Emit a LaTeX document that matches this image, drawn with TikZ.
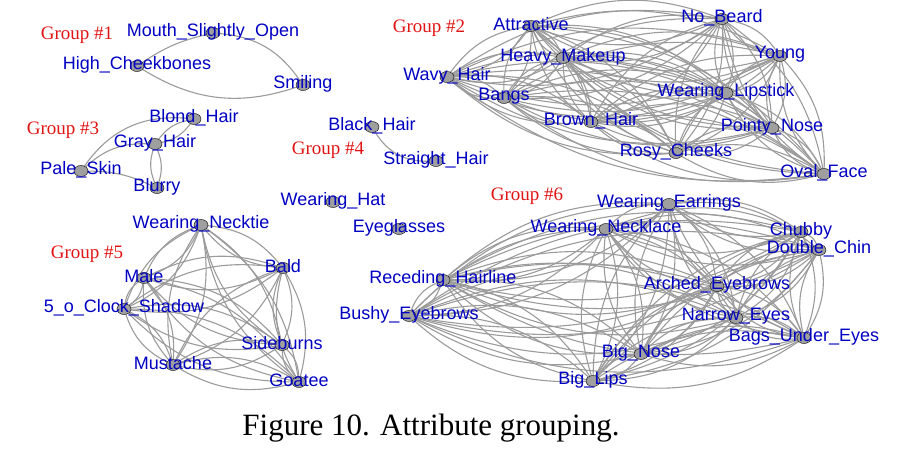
\documentclass[tikz,border=0pt]{standalone}
\usepackage{fontspec}
\setmainfont{Liberation Serif}
\newfontfamily\arialfont{Liberation Sans}
\usetikzlibrary{shapes.geometric,backgrounds}
\definecolor{attrblue}{RGB}{0,0,195}
\definecolor{grpred}{RGB}{225,20,20}
\definecolor{edgegray}{RGB}{155,155,155}
\tikzset{
  att/.style={ellipse,draw=black,fill=gray!75,minimum width=14pt,minimum height=11pt,inner sep=0pt,thin},
  attlab/.style={font=\arialfont\fontsize{18}{18}\selectfont,text=attrblue,inner sep=0pt,yshift=1.5pt},
  grp/.style={font=\fontsize{19}{19}\selectfont,text=grpred},
  edge/.style={draw=edgegray,line width=1.1pt},
}
% every attribute of a group linked to every other one, both ways
\newcommand{\linkall}[2]{%
  \foreach \a [count=\i] in {#2}{%
    \foreach \b [count=\j] in {#2}{%
      \ifnum\i<\j
        \draw[edge] (\a) to[bend left=#1] (\b);
        \draw[edge] (\a) to[bend right=#1] (\b);
      \fi
    }}}

\begin{document}
\begin{tikzpicture}[x=1pt,y=-1pt]
  \useasboundingbox (0,0) rectangle (924,462);

  % group labels
  \node[grp] (g1) at (77,35) {Group \#1};
  \node[grp] (g2) at (429,28) {Group \#2};
  \node[grp] (g3) at (63,130) {Group \#3};
  \node[grp] (g4) at (328,150) {Group \#4};
  \node[grp] (g5) at (87,254) {Group \#5};
  \node[grp] (g6) at (527,196) {Group \#6};

  % group 1
  \node[att,label={[attlab]center:Mouth\_Slightly\_Open}] (mouth) at (213,33) {};
  \node[att,label={[attlab]center:High\_Cheekbones}] (cheek) at (137,66) {};
  \node[att,label={[attlab]center:Smiling}] (smile) at (303,85) {};

  % group 3
  \node[att,label={[attlab]center:Blond\_Hair}] (blond) at (194,119) {};
  \node[att,label={[attlab]center:Gray\_Hair}] (gray) at (155,144) {};
  \node[att,label={[attlab]center:Pale\_Skin}] (pale) at (81,171) {};
  \node[att,label={[attlab]center:Blurry}] (blurry) at (157,188) {};

  % group 4 and the loose ones
  \node[att,label={[attlab]center:Black\_Hair}] (black) at (372,127) {};
  \node[att,label={[attlab]center:Straight\_Hair}] (straight) at (436,161) {};
  \node[att,label={[attlab]center:Wearing\_Hat}] (hat) at (333,202) {};
  \node[att,label={[attlab]center:Eyeglasses}] (glasses) at (399,229) {};

  % group 2
  \node[att,label={[attlab]center:Attractive}] (attr) at (531,26) {};
  \node[att,label={[attlab]center:No\_Beard}] (nobeard) at (722,19) {};
  \node[att,label={[attlab]center:Heavy\_Makeup}] (makeup) at (563,58) {};
  \node[att,label={[attlab]center:Young}] (young) at (780,56) {};
  \node[att,label={[attlab]center:Wavy\_Hair}] (wavy) at (447,77) {};
  \node[att,label={[attlab]center:Bangs}] (bangs) at (504,98) {};
  \node[att,label={[attlab]center:Wearing\_Lipstick}] (lipstick) at (726,93) {};
  \node[att,label={[attlab]center:Brown\_Hair}] (brown) at (591,122) {};
  \node[att,label={[attlab]center:Pointy\_Nose}] (pointy) at (772,128) {};
  \node[att,label={[attlab]center:Rosy\_Cheeks}] (rosy) at (676,153) {};
  \node[att,label={[attlab]center:Oval\_Face}] (oval) at (824,174) {};

  % group 5
  \node[att,label={[attlab]center:Wearing\_Necktie}] (necktie) at (201,225) {};
  \node[att,label={[attlab]center:Male}] (male) at (144,278) {};
  \node[att,label={[attlab]center:Bald}] (bald) at (283,268) {};
  \node[att,label={[attlab]center:5\_o\_Clock\_Shadow}] (shadow) at (124,309) {};
  \node[att,label={[attlab]center:Sideburns}] (sideburns) at (282,345) {};
  \node[att,label={[attlab]center:Mustache}] (mustache) at (173,365) {};
  \node[att,label={[attlab]center:Goatee}] (goatee) at (299,382) {};

  % group 6
  \node[att,label={[attlab]center:Wearing\_Earrings}] (earrings) at (669,204) {};
  \node[att,label={[attlab]center:Wearing\_Necklace}] (necklace) at (606,229) {};
  \node[att,label={[attlab]center:Chubby}] (chubby) at (801,232) {};
  \node[att,label={[attlab]center:Double\_Chin}] (dchin) at (819,250) {};
  \node[att,label={[attlab]center:Receding\_Hairline}] (receding) at (443,280) {};
  \node[att,label={[attlab]center:Arched\_Eyebrows}] (arched) at (717,286) {};
  \node[att,label={[attlab]center:Bushy\_Eyebrows}] (bushy) at (409,316) {};
  \node[att,label={[attlab]center:Narrow\_Eyes}] (narrow) at (736,318) {};
  \node[att,label={[attlab]center:Bags\_Under\_Eyes}] (bags) at (804,338) {};
  \node[att,label={[attlab]center:Big\_Nose}] (bignose) at (641,354) {};
  \node[att,label={[attlab]center:Big\_Lips}] (biglips) at (593,381) {};

  \begin{scope}[on background layer]
    \draw[edge] (cheek) to[bend left=10] (mouth);
    \draw[edge] (mouth) to[bend left=25] (smile);
    \draw[edge] (cheek) to[bend right=25] (smile);

    \draw[edge] (pale) to[bend left=30] (blond);
    \draw[edge] (pale) to[bend left=22] (gray);
    \draw[edge] (blond) to[bend left=20] (gray);
    \draw[edge] (blond) to[bend right=20] (gray);
    \draw[edge] (gray) to[bend left=20] (blurry);
    \draw[edge] (gray) to[bend right=20] (blurry);
    \draw[edge] (pale) to[bend left=12] (blurry);

    \draw[edge] (black) to[bend right=30] (straight);

    \linkall{22}{attr,nobeard,makeup,young,wavy,bangs,lipstick,brown,pointy,rosy,oval}
    \linkall{22}{necktie,male,bald,shadow,sideburns,mustache,goatee}
    \linkall{22}{earrings,necklace,chubby,dchin,receding,arched,bushy,narrow,bags,bignose,biglips}
  \end{scope}

  \node[font=\fontsize{31}{31}\selectfont] (caption) at (431,428) {Figure 10. Attribute grouping.};
\end{tikzpicture}
\end{document}
